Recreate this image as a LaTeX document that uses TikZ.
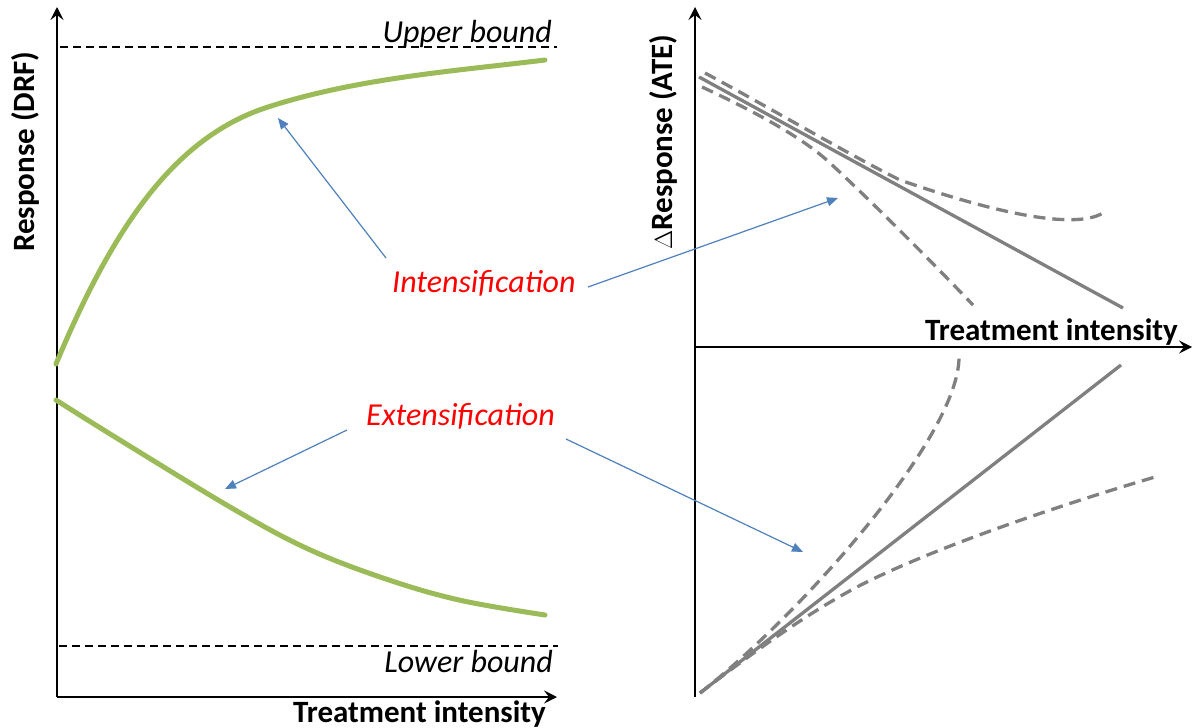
\documentclass[tikz,border=0pt]{standalone}
\usepackage{fontspec}
\setmainfont{Carlito}
\usetikzlibrary{arrows.meta}
\definecolor{drfgreen}{RGB}{155,187,89}
\definecolor{ategray}{RGB}{128,128,128}
\definecolor{ptrblue}{RGB}{79,129,189}
\definecolor{lblred}{RGB}{255,0,0}
\begin{document}
\begin{tikzpicture}[x=1pt,y=-1pt,
  axis/.style={line width=1.5pt, -{Stealth[length=13pt,width=13pt,inset=5pt]}},
  bound/.style={line width=1.5pt, dash pattern=on 8pt off 5pt},
  drf/.style={line width=5pt, color=drfgreen, line cap=round},
  ate/.style={line width=3.3pt, color=ategray},
  atedash/.style={ate, dash pattern=on 12pt off 7pt},
  pointer/.style={line width=1.2pt, color=ptrblue, -{Triangle[length=11pt,width=9pt]}},
  lbl/.style={font=\fontsize{32}{36}\selectfont\itshape, text=lblred, inner sep=0pt},
  axlbl/.style={font=\fontsize{31}{36}\selectfont\bfseries, inner sep=0pt},
  bndlbl/.style={font=\fontsize{32}{36}\selectfont\itshape, inner sep=0pt}]
\useasboundingbox[fill=white] (0,0) rectangle (1194,728);

% ---------- left panel ----------
\coordinate (o1) at (57,697);
\coordinate (y1) at (57,7);
\coordinate (x1) at (557,697);
\draw[axis] (o1) -- (y1);
\draw[axis] (o1) -- (x1);
\coordinate (ub1) at (60,47);
\coordinate (ub2) at (557,47);
\coordinate (lb1) at (59,646);
\coordinate (lb2) at (558,646);
\draw[bound] (ub1) -- (ub2);
\draw[bound] (lb1) -- (lb2);
\node[bndlbl, anchor=base east] (ubl) at (552,42) {Upper bound};
\node[bndlbl, anchor=base east] (lbl) at (553,672) {Lower bound};
\node[axlbl, anchor=base east] (xl1) at (546,722) {Treatment intensity};
\node[axlbl, anchor=base west, rotate=90] (yl1) at (34,252) {Response (DRF)};

\coordinate (g1a) at (56,364);
\coordinate (g1m) at (268,107);
\coordinate (g1b) at (545,60);
\draw[drf] (g1a) .. controls (116,220) and (178,136) .. (g1m)
                 .. controls (358,78) and (455,71) .. (g1b);
\draw[drf] plot[smooth, tension=0.6] coordinates
  {(56,400) (115,437) (230,507) (306,548) (383,578) (459,600) (545,615)};

% ---------- right panel ----------
\coordinate (o2) at (695,697);
\coordinate (y2) at (695,7);
\coordinate (x2a) at (695,347);
\coordinate (x2) at (1192,347);
\draw[axis] (o2) -- (y2);
\draw[axis] (x2a) -- (x2);
\node[axlbl, anchor=base east] (xl2) at (1178,340) {Treatment intensity};
\node[axlbl, anchor=base west, rotate=90] (yl2) at (672,250) {$\Delta$Response (ATE)};

% upper (negative effects)
\coordinate (s1a) at (699,77);
\coordinate (s1b) at (1123,308);
\draw[ate] (s1a) -- (s1b);
\coordinate (d1a) at (705,73);
\coordinate (d1m) at (900,180);
\coordinate (d1b) at (1103,213);
\draw[atedash] (d1a) .. controls (770,108) and (855,158) .. (d1m)
                     .. controls (960,201) and (1068,234) .. (d1b);
\coordinate (d2a) at (702,87);
\coordinate (d2m) at (830,163);
\coordinate (d2b) at (973,305);
\draw[atedash] (d2a) .. controls (745,107) and (800,135) .. (d2m)
                     .. controls (870,200) and (928,258) .. (d2b);

% lower (positive effects)
\coordinate (s2a) at (700,693);
\coordinate (s2b) at (1121,365);
\draw[ate] (s2a) -- (s2b);
\coordinate (d3b) at (959,357);
\draw[atedash] (s2a) .. controls (800,615) and (959,437) .. (d3b);
\coordinate (d4m) at (857,587);
\coordinate (d4b) at (1155,477);
\draw[atedash] (s2a) .. controls (760,647) and (810,612) .. (d4m)
                     .. controls (930,549) and (1060,505) .. (d4b);

% ---------- labels and pointers ----------
\node[lbl, anchor=base west] (int) at (392,292) {Intensification};
\node[lbl, anchor=base west] (ext) at (366,425) {Extensification};
\coordinate (p1s) at (386,258);
\coordinate (p1e) at (278,118);
\coordinate (p2s) at (588,287);
\coordinate (p2e) at (838,198);
\coordinate (p3s) at (347,430);
\coordinate (p3e) at (225,489);
\coordinate (p4s) at (566,439);
\coordinate (p4e) at (803,552);
\draw[pointer] (p1s) -- (p1e);
\draw[pointer] (p2s) -- (p2e);
\draw[pointer] (p3s) -- (p3e);
\draw[pointer] (p4s) -- (p4e);
\end{tikzpicture}
\end{document}
